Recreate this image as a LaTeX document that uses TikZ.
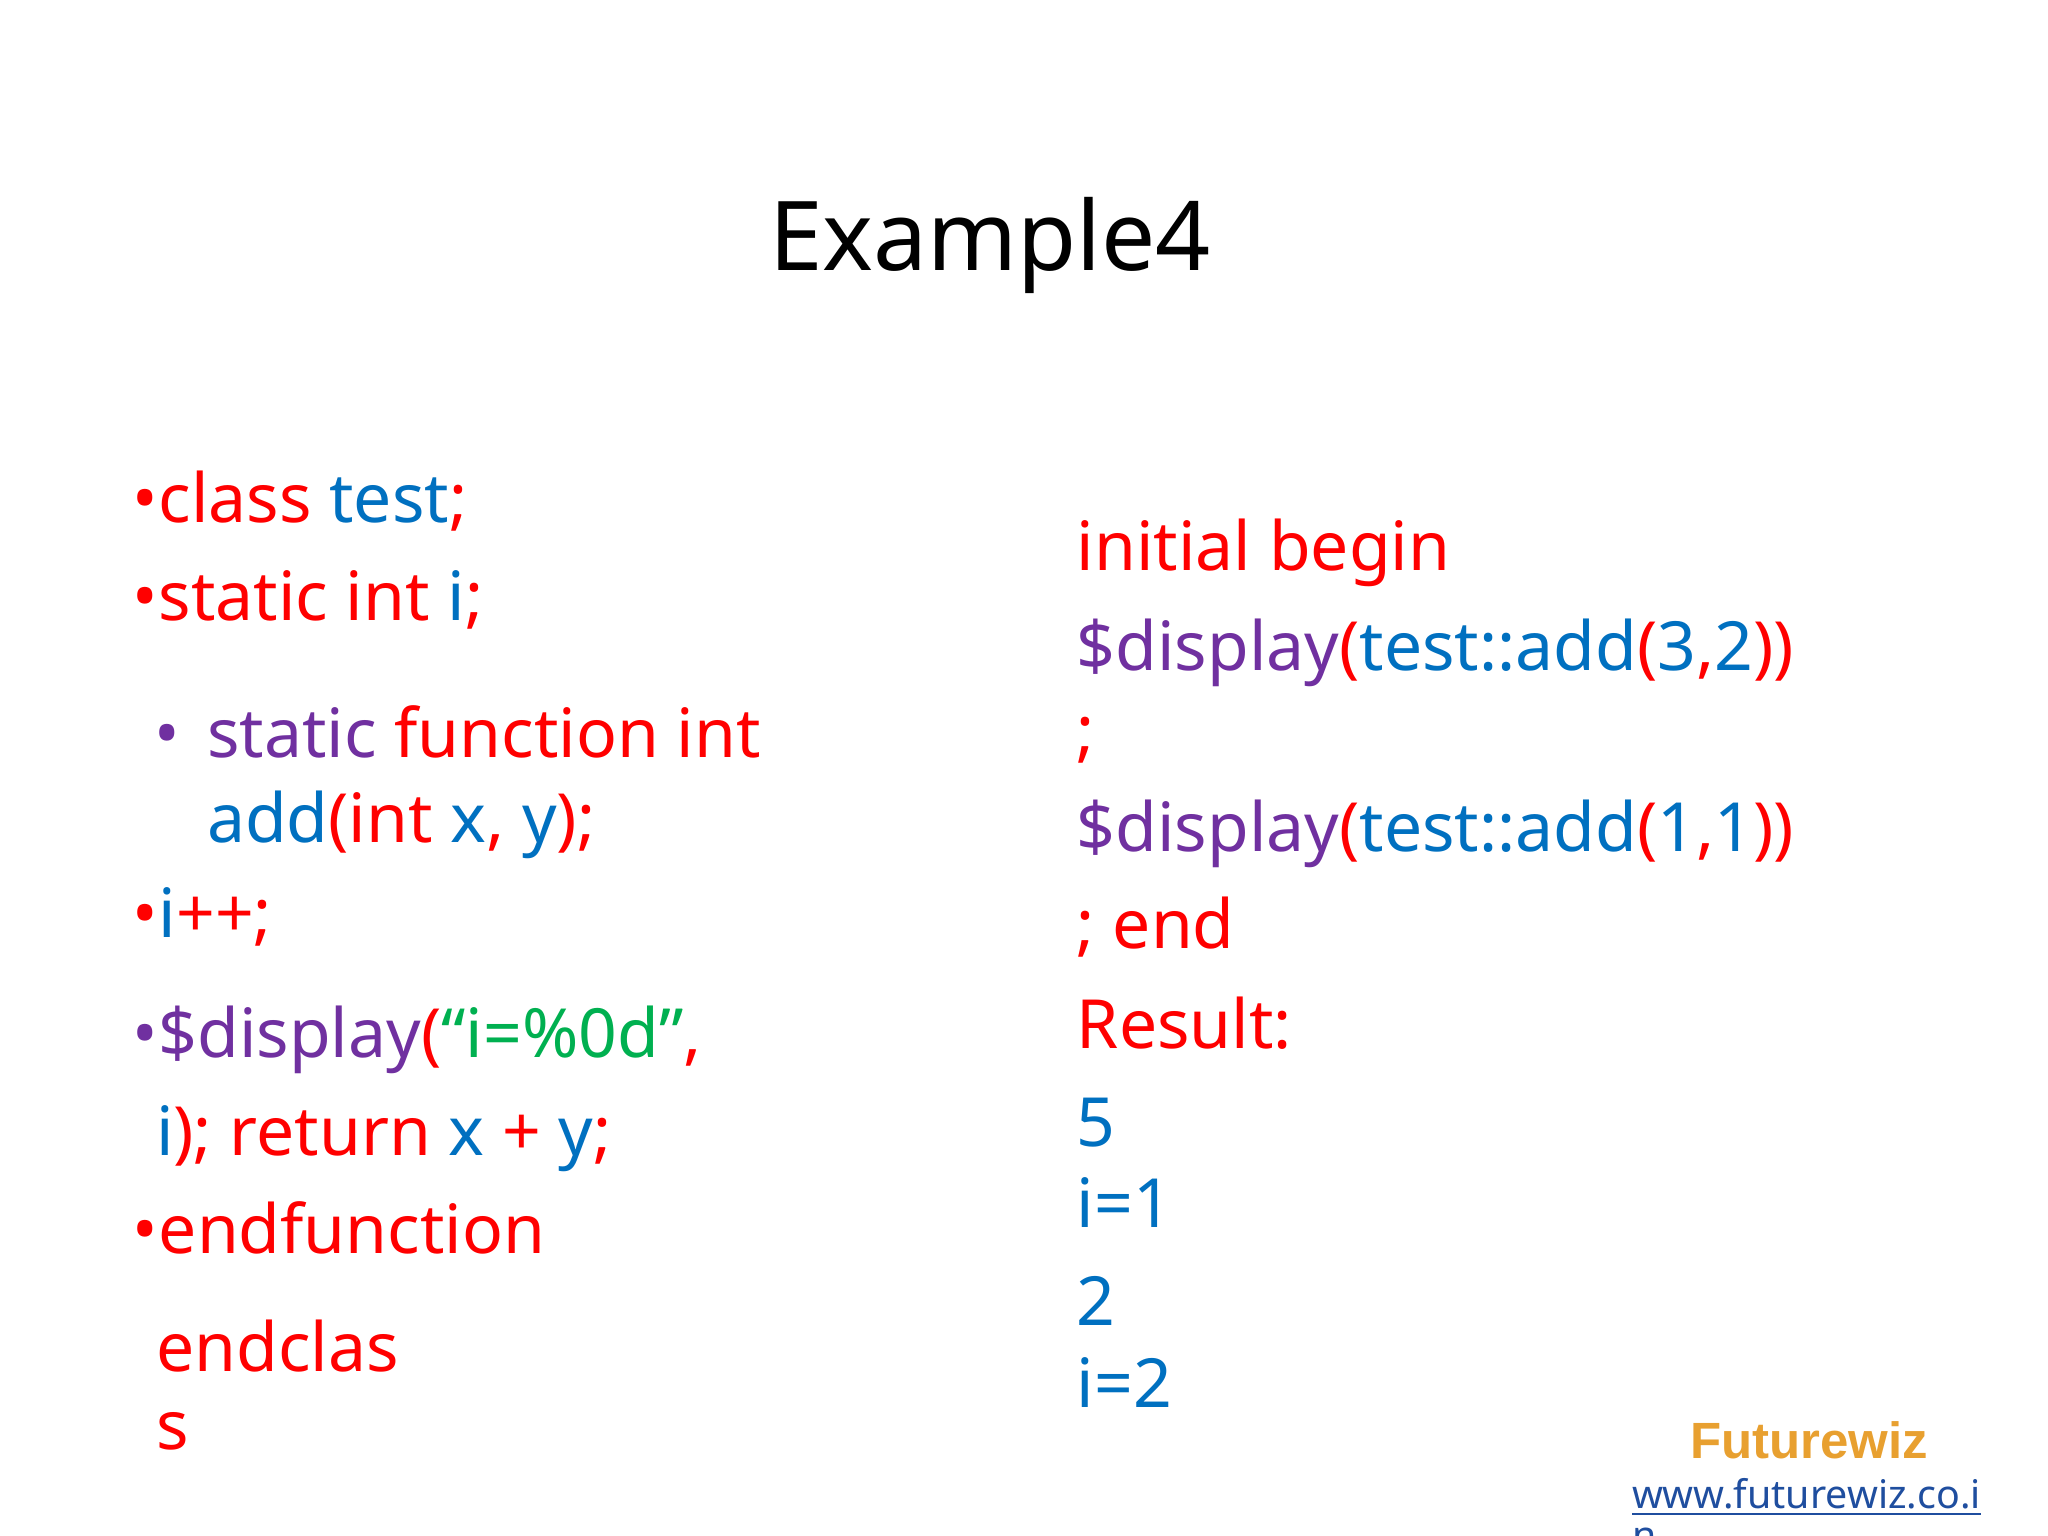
\documentclass[tikz,border=0pt]{standalone}
\usepackage{fontspec}
\setmainfont{Noto Sans}
\newfontfamily\arialf{Liberation Sans}
\definecolor{cR}{HTML}{FF0000}
\definecolor{cB}{HTML}{0070C0}
\definecolor{cP}{HTML}{7030A0}
\definecolor{cG}{HTML}{00B050}
\definecolor{cO}{HTML}{E8A030}
\definecolor{cL}{HTML}{1F4E9F}
\tikzset{ln/.style={anchor=base west,inner sep=0pt,font=\fontsize{19.3pt}{23pt}\selectfont}}
\newcommand{\R}[1]{\textcolor{cR}{#1}}
\newcommand{\B}[1]{\textcolor{cB}{#1}}
\newcommand{\Pu}[1]{\textcolor{cP}{#1}}
\newcommand{\G}[1]{\textcolor{cG}{#1}}
\begin{document}
\begin{tikzpicture}[x=0.01306cm,y=-0.01306cm]
\clip (0,0) rectangle (1568,1176);
\fill[white] (0,0) rectangle (1568,1176);
\node[anchor=base,inner sep=0pt,font=\fontsize{27.4pt}{32pt}\selectfont] (title) at (758,207) {Example4};
% left column
\node[ln] (b1) at (101,400) {\R{•}};
\node[ln] (l1) at (121,400) {\R{class} \B{test}\R{;}};
\node[ln] (b2) at (101,475) {\R{•}};
\node[ln] (l2) at (121,475) {\R{static int} \B{i}\R{;}};
\node[ln] (b3) at (118,580) {\Pu{•}};
\node[ln] (l3) at (158,580) {\Pu{static} \R{function int}};
\node[ln] (l4) at (158,645) {\B{add}\R{(int} \B{x}\R{,} \B{y}\R{);}};
\node[ln] (b5) at (101,718) {\R{•}};
\node[ln] (l5) at (121,718) {\B{i}\R{++;}};
\node[ln] (b6) at (101,810) {\Pu{•}};
\node[ln] (l6) at (121,810) {\Pu{\$display}\R{(}\G{“i=\%0d”}\R{,}};
\node[ln] (l7) at (119,885) {\B{i}\R{); return} \B{x} \R{+} \B{y}\R{;}};
\node[ln] (b8) at (101,960) {\R{•}};
\node[ln] (l8) at (121,960) {\R{endfunction}};
\node[ln] (l9) at (119,1050) {\R{endclas}};
\node[ln] (l10) at (119,1110) {\R{s}};
% right column
\node[ln] (r1) at (824,437) {\R{initial begin}};
\node[ln] (r2) at (824,513) {\Pu{\$display}\R{(}\B{test::add}\R{(}\B{3}\R{,}\B{2}\R{))}};
\node[ln] (r3) at (824,578) {\R{;}};
\node[ln] (r4) at (824,652) {\Pu{\$display}\R{(}\B{test::add}\R{(}\B{1}\R{,}\B{1}\R{))}};
\node[ln] (r5) at (824,726) {\R{; end}};
\node[ln] (r6) at (824,803) {\R{Result:}};
\node[ln] (r7) at (824,878) {\B{5}};
\node[ln] (r8) at (824,940) {\B{i=1}};
\node[ln] (r9) at (824,1015) {\B{2}};
\node[ln] (r10) at (824,1078) {\B{i=2}};
% footer
\node[anchor=base,inner sep=0pt,font=\arialf\bfseries\fontsize{14.5pt}{17pt}\selectfont,text=cO] (fw) at (1385,1117) {Futurewiz};
\node[anchor=base west,inner sep=0pt,font=\fontsize{11.2pt}{14pt}\selectfont,text=cL] (url) at (1249,1155) {\underline{www.futurewiz.co.i}};
\node[anchor=base west,inner sep=0pt,font=\fontsize{11.2pt}{14pt}\selectfont,text=cL] (url2) at (1249,1186) {n};
\end{tikzpicture}
\end{document}
